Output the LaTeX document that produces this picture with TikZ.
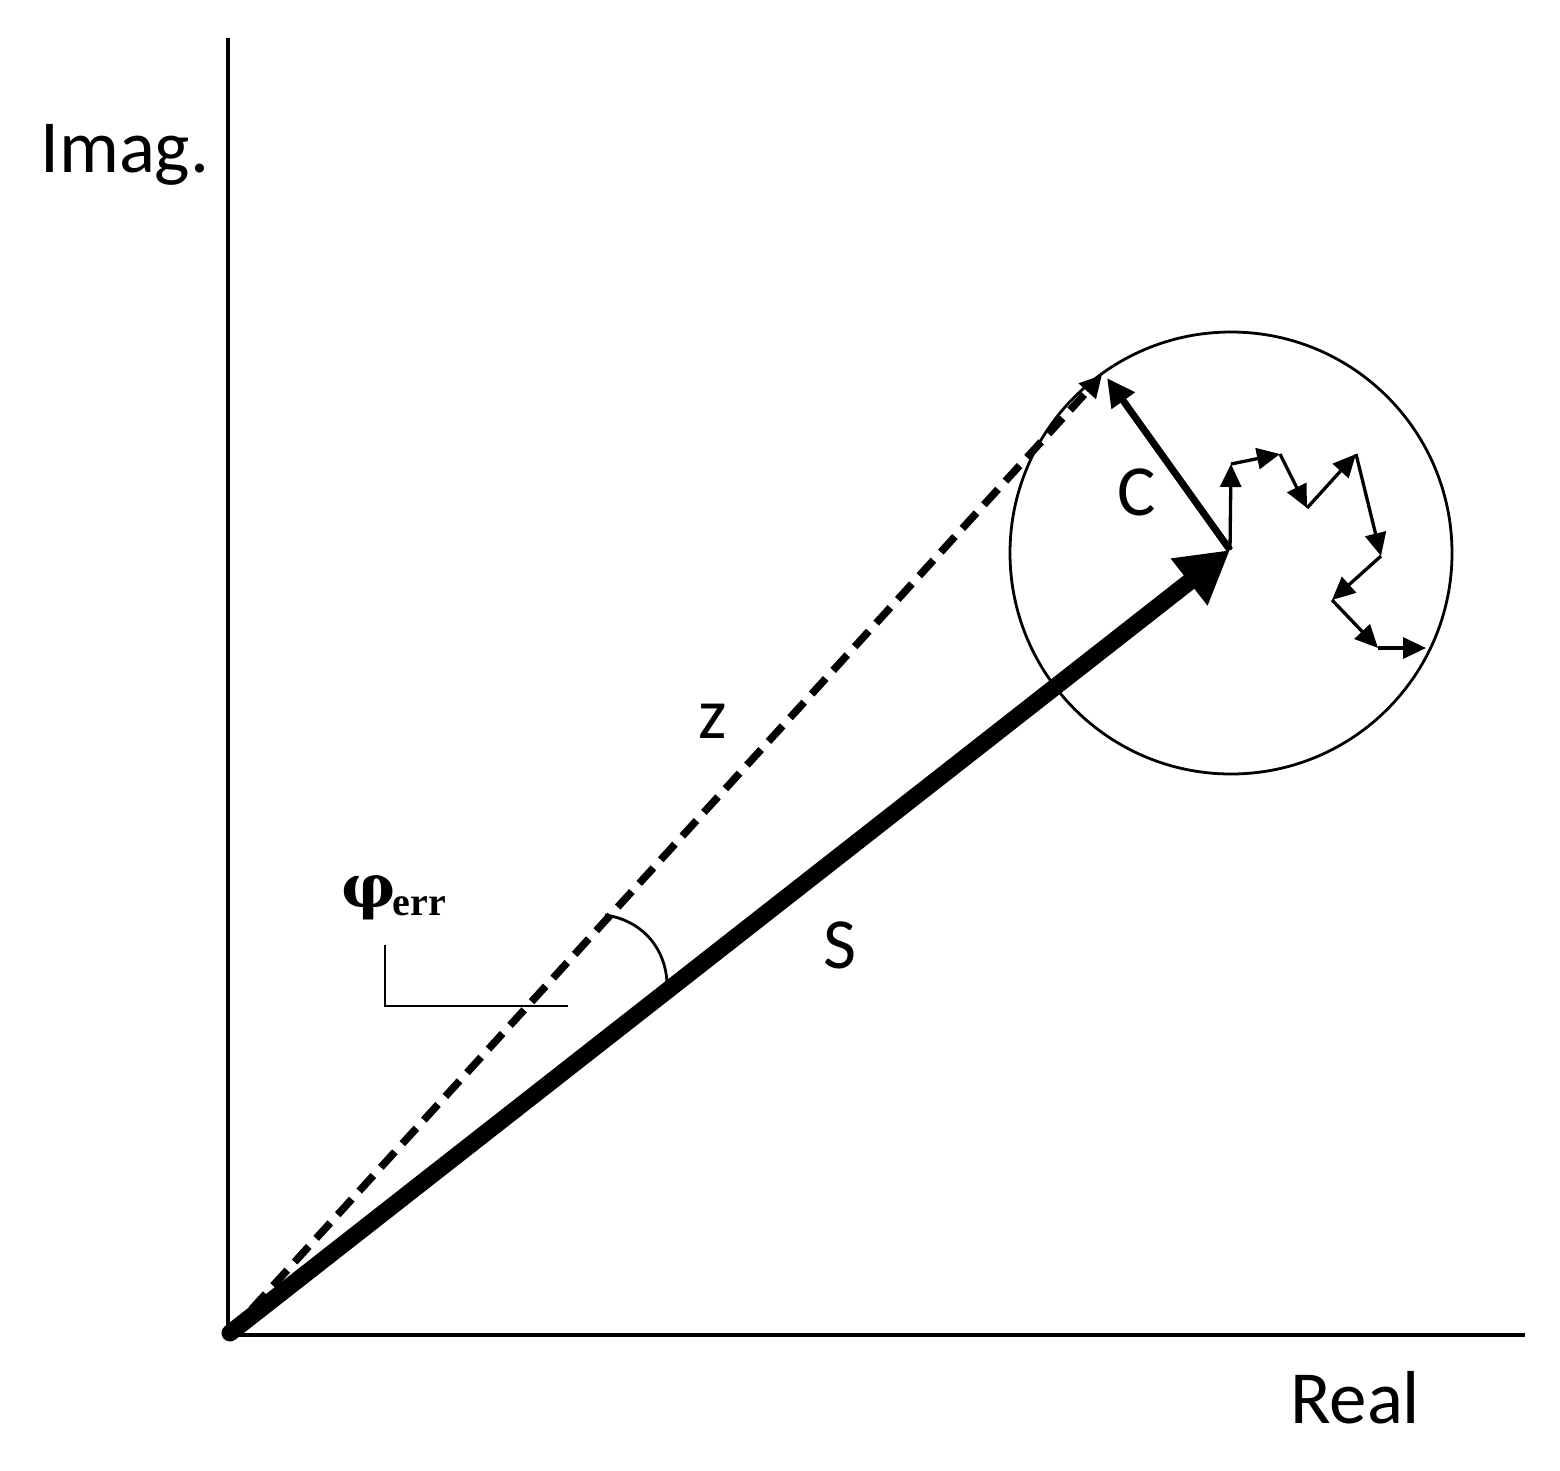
\documentclass[tikz,border=0pt]{standalone}
\usepackage{fontspec}
\setmainfont{Carlito}
\newfontfamily\phifont{DejaVu Serif}
\newfontfamily\errfont{Liberation Serif}
\usetikzlibrary{arrows.meta}
\begin{document}
\begin{tikzpicture}[x=1pt,y=-1pt,
  axis/.style={line width=3.5pt},
  sarrow/.style={line width=17pt,-{Triangle[length=52pt,width=56pt]}},
  carrow/.style={line width=7pt,-{Triangle[length=28pt,width=27pt]}},
  zarrow/.style={line width=7.5pt,dash pattern=on 21pt off 11pt,-{Triangle[length=22pt,width=22pt]}},
  walk/.style={line width=3.3pt,-{Triangle[length=23pt,width=21pt]}},
  thin/.style={line width=2.8pt},
  lbl/.style={font=\fontsize{72}{80}\selectfont,inner sep=0pt},
  axlbl/.style={font=\fontsize{75}{85}\selectfont,inner sep=0pt}]
\useasboundingbox (0,0) rectangle (1560,1470);
% coordinates
\coordinate (O) at (230,1333);
\coordinate (Ytop) at (228,38);
\coordinate (Ybot) at (228,1335);
\coordinate (Xend) at (1525,1335);
\coordinate (Cen) at (1231,553);
\coordinate (P0) at (1230,550);
\coordinate (Ztip) at (1102,375);
\coordinate (Ctip) at (1107,378);
\coordinate (P1) at (1231,464);
\coordinate (P2) at (1280,454);
\coordinate (P3) at (1307,508);
\coordinate (P4) at (1356,454);
\coordinate (P5) at (1381,556);
\coordinate (P6) at (1332,600);
\coordinate (P7) at (1378,648);
\coordinate (P8) at (1426,648);
\coordinate (A1) at (605,915);
\coordinate (A2) at (667,983);
\coordinate (K1) at (385,945);
\coordinate (K2) at (385,1006);
\coordinate (K3) at (568,1006);
% axes
\draw[axis] (Ytop) -- (Ybot) -- (Xend);
% circle
\draw[thin] (Cen) circle[radius=221pt];
% vectors
\draw[zarrow] (O) -- (Ztip);
\draw[sarrow,line cap=round] (O) -- (P0);
\draw[carrow] (P0) -- (Ctip);
% random walk
\draw[walk] (P0) -- (P1);
\draw[walk] (P1) -- (P2);
\draw[walk] (P2) -- (P3);
\draw[walk] (P3) -- (P4);
\draw[walk] (P4) -- (P5);
\draw[walk] (P5) -- (P6);
\draw[walk] (P6) -- (P7);
\draw[walk] (P7) -- (P8);
% angle arc and corner mark
\draw[thin] (A1) to[bend left=40] (A2);
\draw[thin] (K1) -- (K2) -- (K3);
% labels
\node[axlbl,anchor=base west] (imag) at (40,172) {Imag.};
\node[axlbl,anchor=base west] (real) at (1290,1423) {Real};
\node[lbl,anchor=base] (zl) at (713,738) {z};
\node[lbl,anchor=base] (cl) at (1137,515) {C};
\node[lbl,anchor=base] (sl) at (840,968) {S};
\node[inner sep=0pt,anchor=base west] (phi) at (341,907)
  {\phifont\bfseries\fontsize{60}{64}\selectfont φ\hspace{-3pt}\raisebox{-8pt}{\errfont\bfseries\fontsize{40}{42}\selectfont err}};
\end{tikzpicture}
\end{document}
